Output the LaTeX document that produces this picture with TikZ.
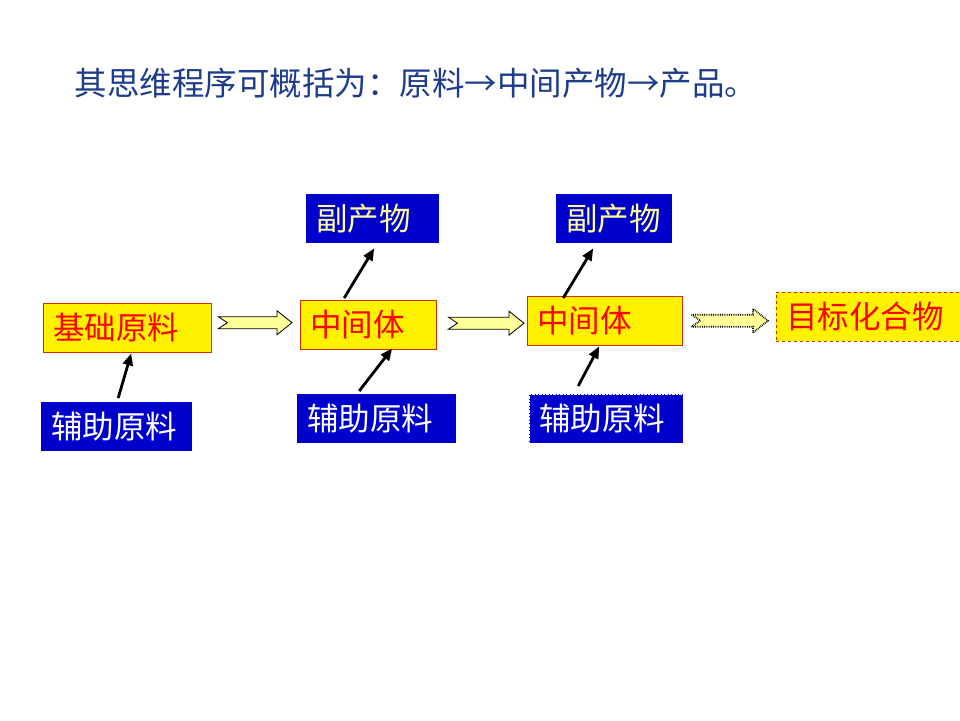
\documentclass[tikz,border=0pt]{standalone}
\usepackage{fontspec}
\setmainfont{Liberation Serif}
\newfontfamily\cjk{Noto Sans CJK SC}
\usetikzlibrary{arrows.meta,calc}

\definecolor{boxblue}{RGB}{0,0,204}
\definecolor{boxred}{RGB}{204,51,0}
\definecolor{paleyel}{RGB}{255,255,153}
\definecolor{titleblue}{RGB}{30,60,140}

% broad hollow arrow with notched tail, drawn between two points at the height of the first
\newcommand\fatarrow[3][]{%
  \draw[hollow,#1] let \p1=(#2), \p2=(#3) in
    (\x1,\y1+6pt) -- (\x2-15pt,\y1+6pt) -- (\x2-15pt,\y1+12pt) -- (\x2,\y1)
    -- (\x2-15pt,\y1-12pt) -- (\x2-15pt,\y1-6pt) -- (\x1,\y1-6pt) -- (\x1+9pt,\y1) -- cycle;}

\begin{document}
\begin{tikzpicture}[x=1pt, y=-1pt,
  every node/.style={font=\cjk\fontsize{31.5}{31.5}\selectfont},
  stepbox/.style={anchor=north west, inner xsep=10pt, inner ysep=0pt, minimum height=49pt, align=left},
  ybox/.style={stepbox, draw=boxred, fill=yellow, text=red},
  auxbox/.style={stepbox, fill=boxblue, text=white},
  bybox/.style={stepbox, fill=boxblue, text=paleyel},
  hollow/.style={draw=black, fill=paleyel, line width=0.8pt},
  blk/.style={-{Triangle[length=12pt,width=10pt]}, line width=2.8pt}]
\fill[white] (0,0) rectangle (960,720);
\useasboundingbox (0,0) rectangle (960,720);
\node[anchor=west, text=titleblue, font=\cjk\fontsize{32.5}{32.5}\selectfont] (title) at (71,83) {其思维程序可概括为：原料→中间产物→产品。};
\node[ybox, text width=148pt] (base) at (43,303) {基础原料};
\node[auxbox, text width=131pt] (aux1) at (41,402) {辅助原料};
\node[ybox, text width=116pt] (mid1) at (300,300) {中间体};
\node[bybox, text width=113pt] (by1) at (306,194) {副产物};
\node[auxbox, text width=139pt] (aux2) at (297,394) {辅助原料};
\node[ybox, text width=135pt] (mid2) at (527,296) {中间体};
\node[bybox, text width=96pt] (by2) at (556,194) {副产物};
\node[auxbox, text width=134pt, draw=white, densely dotted] (aux3) at (529,394) {辅助原料};
\node[ybox, text width=164pt, dashed] (target) at (776,292) {目标化合物};
% hollow arrows along the main line
\fatarrow{[xshift=7pt,yshift=5pt]base.east}{[xshift=-8pt]mid1.west}
\fatarrow{[xshift=12pt,yshift=1.5pt]mid1.east}{[xshift=-3pt]mid2.west}
\fatarrow[densely dotted, line width=1.6pt]{[xshift=9pt]mid2.east}{[xshift=-8pt]target.west}
% side arrows
\draw[blk] ([xshift=1.5pt,yshift=4pt]aux1.north) -- ([xshift=4pt,yshift=-1pt]base.south);
\draw[blk] ([xshift=-24pt,yshift=2pt]mid1.north) -- ([xshift=1.5pt,yshift=-5pt]by1.south);
\draw[blk] ([xshift=-17.5pt,yshift=3pt]aux2.north) -- ([xshift=24pt,yshift=1pt]mid1.south);
\draw[blk] ([xshift=-41.5pt,yshift=-2pt]mid2.north) -- ([xshift=-21pt,yshift=-5pt]by2.south);
\draw[blk] ([xshift=-28pt,yshift=8pt]aux3.north) -- ([xshift=-5.5pt,yshift=-1pt]mid2.south);
\end{tikzpicture}
\end{document}
